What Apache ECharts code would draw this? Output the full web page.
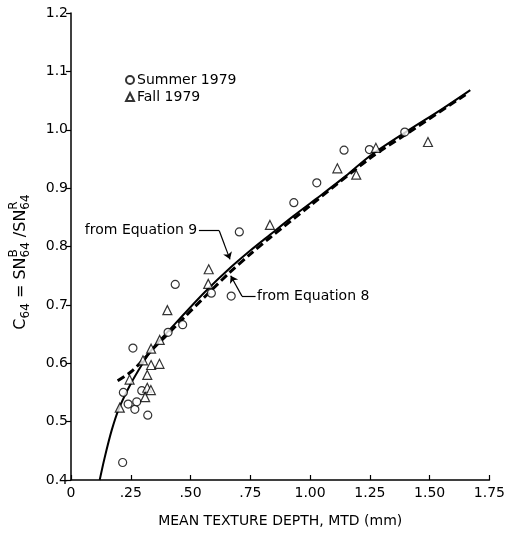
<!DOCTYPE html>
<html><head><meta charset="utf-8">
<script src="https://cdn.jsdelivr.net/npm/echarts@6/dist/echarts.min.js"></script>
<style>html,body{margin:0;padding:0;background:#fff}#c{width:508px;height:533px}</style>
</head><body><div id="c"></div>
<script>
// ---- data ----
const summerX = [0.216,0.219,0.239,0.259,0.267,0.275,0.296,0.321,0.406,0.436,0.467,0.587,0.670,0.704,0.932,1.028,1.142,1.248,1.396];
const summerY = [0.430,0.550,0.530,0.626,0.521,0.534,0.553,0.511,0.653,0.735,0.666,0.720,0.715,0.825,0.875,0.909,0.965,0.966,0.996];
const fallX = [0.204,0.245,0.301,0.310,0.319,0.319,0.334,0.335,0.335,0.370,0.371,0.403,0.574,0.576,0.832,1.114,1.193,1.275,1.493];
const fallY = [0.524,0.572,0.605,0.542,0.580,0.558,0.554,0.625,0.597,0.599,0.640,0.691,0.736,0.761,0.837,0.934,0.923,0.969,0.979];
const eq9X = [0.12,0.14,0.17,0.20,0.25,0.30,0.335,0.37,0.40,0.47,0.56,0.665,0.75,0.832,0.93,1.03,1.15,1.25,1.40,1.55,1.67];
const eq9Y = [0.40,0.437,0.485,0.522,0.565,0.600,0.622,0.639,0.652,0.683,0.722,0.763,0.793,0.820,0.852,0.883,0.921,0.955,0.996,1.035,1.068];
const eq8X = [0.195,0.25,0.30,0.35,0.40,0.47,0.56,0.665,0.75,0.832,1.00,1.25,1.40,1.65];
const eq8Y = [0.570,0.585,0.605,0.628,0.648,0.677,0.714,0.756,0.787,0.815,0.870,0.951,0.992,1.060];
const xTicks = [0,0.25,0.5,0.75,1.0,1.25,1.5,1.75];
const xTickLabels = ['0','.25','.50','.75','1.00','1.25','1.50','1.75'];
const yTicks = [0.4,0.5,0.6,0.7,0.8,0.9,1.0,1.1,1.2];
const yTickLabels = ['0.4','0.5','0.6','0.7','0.8','0.9','1.0','1.1','1.2'];
const seriesNames = ['Summer 1979','Fall 1979'];
const xName = 'MEAN TEXTURE DEPTH, MTD (mm)';
const eq9Label = 'from Equation 9';
const eq8Label = 'from Equation 8';

const FONT = "'DejaVu Sans', sans-serif";
const zip = (a,b) => a.map((v,i)=>[v,b[i]]);
const lab = (ticks, labels) => v => { const i = ticks.findIndex(t=>Math.abs(t-v)<1e-6); return i<0?'':labels[i]; };

const chart = echarts.init(document.getElementById('c'), null, {renderer:'canvas'});
chart.setOption({
  animation:false,
  backgroundColor:'#fff',
  grid:{left:71,right:13,top:13,bottom:48},
  legend:{
    orient:'vertical', left:120, top:68, itemGap:3, itemWidth:8, itemHeight:8,
    data:seriesNames,
    textStyle:{fontFamily:FONT,fontSize:14,color:'#000',padding:[0,0,0,-2]}
  },
  xAxis:{
    type:'value',min:0,max:1.75,interval:0.25,
    name:xName,nameLocation:'middle',nameGap:34,
    nameTextStyle:{fontFamily:FONT,fontSize:14,color:'#000'},
    axisLine:{lineStyle:{color:'#000',width:1.5}},
    axisTick:{inside:true,length:5,lineStyle:{color:'#000',width:1.2}},
    axisLabel:{formatter:lab(xTicks,xTickLabels),fontFamily:FONT,fontSize:14,color:'#000',margin:6},
    splitLine:{show:false}
  },
  yAxis:{
    type:'value',min:0.4,max:1.2,interval:0.1,
    axisLine:{show:true,lineStyle:{color:'#000',width:1.5}},
    axisTick:{show:true,inside:false,length:5,lineStyle:{color:'#000',width:1.2}},
    axisLabel:{formatter:lab(yTicks,yTickLabels),fontFamily:FONT,fontSize:14,color:'#000',margin:3},
    splitLine:{show:false}
  },
  series:[
    {name:'Equation 9',type:'line',data:zip(eq9X,eq9Y),showSymbol:false,smooth:0.3,
     lineStyle:{color:'#000',width:2},z:3,
     markLine:{silent:true,symbol:['none','arrow'],symbolSize:7,label:{show:false},
       lineStyle:{color:'#000',width:1.2,type:'solid'},
       data:[
         [{coord:[0.535,0.827],symbol:'none'},{coord:[0.62,0.827],symbol:'none'}],
         [{coord:[0.62,0.827]},{coord:[0.665,0.778]}],
         [{coord:[0.772,0.715],symbol:'none'},{coord:[0.715,0.715],symbol:'none'}],
         [{coord:[0.715,0.715]},{coord:[0.668,0.750]}]
       ]}},
    {name:'Equation 8',type:'line',data:zip(eq8X,eq8Y),showSymbol:false,smooth:0.3,
     lineStyle:{color:'#000',width:3,type:[8,4]},z:3},
    {name:seriesNames[0],type:'scatter',data:zip(summerX,summerY),symbol:'circle',symbolSize:8,
     itemStyle:{color:'#fff',borderColor:'#000',borderWidth:1.2},z:4},
    {name:seriesNames[1],type:'scatter',data:zip(fallX,fallY),symbol:'triangle',symbolSize:9,
     itemStyle:{color:'#fff',borderColor:'#000',borderWidth:1.2},z:4}
  ]
});

// annotations and y-axis title
const ctx = document.createElement('canvas').getContext('2d');
const tw = (t,s) => { ctx.font = s+"px 'DejaVu Sans'"; return ctx.measureText(t).width; };
const p9 = chart.convertToPixel({seriesIndex:0},[0.528,0.827]);
const p8 = chart.convertToPixel({seriesIndex:0},[0.778,0.715]);
const parts = [['C',16,0],['64',12,5],[' = SN',16,0],[['B',12,-7],['64',12,5]],[' /SN',16,0],[['R',12,-7],['64',12,5]]];
let total = 0;
parts.forEach(p => { if (Array.isArray(p[0])) total += Math.max(...p.map(q=>tw(q[0],q[1]))); else total += tw(p[0],p[1]); });
const kids = []; let cx = -total/2;
parts.forEach(p => {
  const list = Array.isArray(p[0]) ? p : [p];
  let mw = 0;
  list.forEach(q => {
    kids.push({type:'text',x:cx,y:q[2],style:{text:q[0],fontFamily:FONT,fontSize:q[1],fill:'#000',align:'left',verticalAlign:'middle'}});
    mw = Math.max(mw, tw(q[0],q[1]));
  });
  cx += mw;
});
chart.setOption({graphic:[
  {type:'group',x:21,y:262,rotation:Math.PI/2,children:kids},
  {type:'text',x:p9[0],y:p9[1],style:{text:eq9Label,fontFamily:FONT,fontSize:14,fill:'#000',align:'right',verticalAlign:'middle'}},
  {type:'text',x:p8[0],y:p8[1],style:{text:eq8Label,fontFamily:FONT,fontSize:14,fill:'#000',align:'left',verticalAlign:'middle'}}
]});
</script></body></html>
